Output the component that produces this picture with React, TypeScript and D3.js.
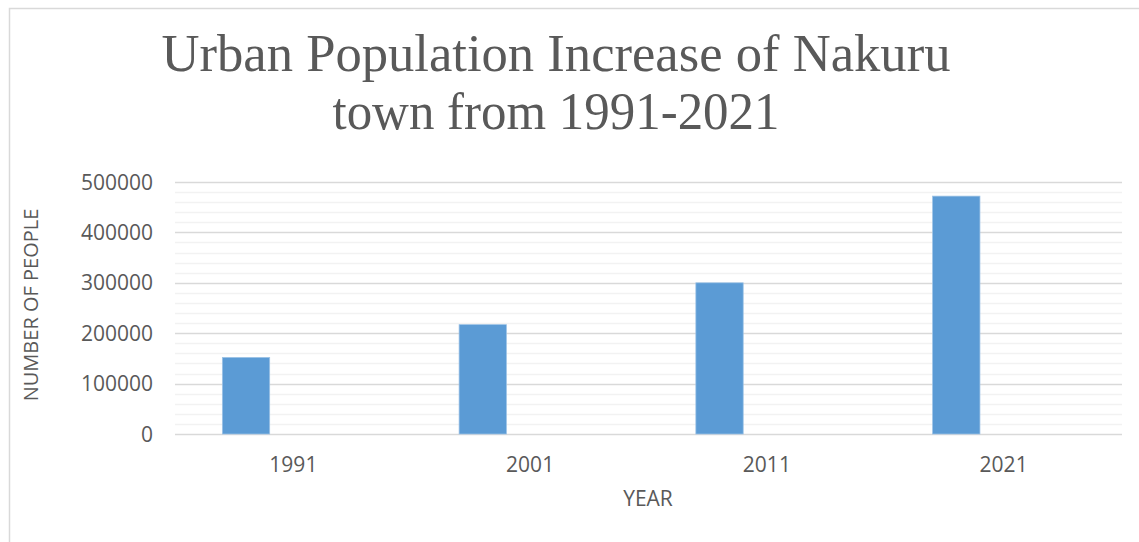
import { useEffect, useRef } from 'react';
import * as d3 from 'd3';

const years = ['1991', '2001', '2011', '2021'];
const population = [152000, 217000, 300000, 472000];
// Excel-style clustered layout: three series slots, only the first has data
const seriesSlots = ['population', 'empty1', 'empty2'];
const yTicks = [0, 100000, 200000, 300000, 400000, 500000];
const titleLines = ['Urban Population Increase of Nakuru', 'town from 1991-2021'];

const W = 1139;
const H = 542;

export default function App() {
  const ref = useRef<SVGSVGElement | null>(null);

  useEffect(() => {
    if (!ref.current) return;
    const svg = d3.select(ref.current);
    svg.selectAll('*').remove();

    const margin = { top: 182, right: 17, bottom: 108, left: 175 };
    const innerWidth = W - margin.left - margin.right;
    const innerHeight = H - margin.top - margin.bottom;
    const textColor = '#595959';
    const font = '"Open Sans", sans-serif';

    // chart frame
    svg
      .append('rect')
      .attr('x', 9.5)
      .attr('y', 8.5)
      .attr('width', W + 20)
      .attr('height', H + 20)
      .attr('fill', '#fff')
      .attr('stroke', '#d9d9d9')
      .attr('stroke-width', 1.5);

    svg
      .append('text')
      .attr('x', 556)
      .attr('y', 71)
      .attr('text-anchor', 'middle')
      .attr('font-family', '"Liberation Serif", serif')
      .attr('font-size', 52)
      .attr('fill', textColor)
      .selectAll('tspan')
      .data(titleLines)
      .join('tspan')
      .attr('x', 556)
      .attr('dy', (_, i) => (i === 0 ? 0 : 58))
      .attr('textLength', (_, i) => (i === 0 ? 789 : 447))
      .attr('lengthAdjust', 'spacingAndGlyphs')
      .text(d => d);

    const g = svg.append('g').attr('transform', `translate(${margin.left},${margin.top})`);

    const x0 = d3.scaleBand<string>().domain(years).range([0, innerWidth]);
    const x1 = d3
      .scaleBand<string>()
      .domain(seriesSlots)
      .range([0, x0.bandwidth()])
      .paddingOuter(1);
    const y = d3.scaleLinear().domain([0, 500000]).range([innerHeight, 0]);

    // minor grid every 20000
    g.append('g')
      .selectAll('line')
      .data(d3.range(20000, 500000, 20000).filter(v => v % 100000 !== 0))
      .join('line')
      .attr('x1', 0)
      .attr('x2', innerWidth)
      .attr('y1', d => Math.round(y(d)) + 0.5)
      .attr('y2', d => Math.round(y(d)) + 0.5)
      .attr('stroke', '#f2f2f2')
      .attr('stroke-width', 1.5);

    g.append('g')
      .selectAll('line')
      .data(yTicks)
      .join('line')
      .attr('x1', 0)
      .attr('x2', innerWidth)
      .attr('y1', d => Math.round(y(d)) + 0.5)
      .attr('y2', d => Math.round(y(d)) + 0.5)
      .attr('stroke', '#d9d9d9')
      .attr('stroke-width', 1.5);

    g.append('g')
      .selectAll('rect')
      .data(years.map((yr, i) => ({ yr, v: population[i] })))
      .join('rect')
      .attr('x', d => (x0(d.yr) ?? 0) + (x1('population') ?? 0))
      .attr('width', x1.bandwidth())
      .attr('y', d => y(d.v))
      .attr('height', d => innerHeight - y(d.v))
      .attr('fill', '#5b9bd5')
      .attr('stroke', '#9dc3e6')
      .attr('stroke-width', 0.75);

    g.append('g')
      .selectAll('text')
      .data(yTicks)
      .join('text')
      .attr('x', -22)
      .attr('y', d => y(d))
      .attr('dy', '0.36em')
      .attr('text-anchor', 'end')
      .attr('font-family', font)
      .attr('font-size', 21)
      .attr('fill', textColor)
      .text(d => String(d));

    g.append('g')
      .selectAll('text')
      .data(years)
      .join('text')
      .attr('x', d => (x0(d) ?? 0) + x0.bandwidth() / 2)
      .attr('y', innerHeight + 38)
      .attr('text-anchor', 'middle')
      .attr('font-family', font)
      .attr('font-size', 21)
      .attr('fill', textColor)
      .text(d => d);

    svg
      .append('text')
      .attr('x', 648)
      .attr('y', 506)
      .attr('text-anchor', 'middle')
      .attr('font-family', font)
      .attr('font-size', 21)
      .attr('fill', textColor)
      .text('YEAR');

    svg
      .append('text')
      .attr('transform', `translate(38,305) rotate(-90)`)
      .attr('text-anchor', 'middle')
      .attr('font-family', font)
      .attr('font-size', 20)
      .attr('fill', textColor)
      .text('NUMBER OF PEOPLE');
  }, []);

  return (
    <svg
      ref={ref}
      width={W}
      height={H}
      style={{ position: 'absolute', left: 0, top: 0, background: '#fff' }}
    />
  );
}
